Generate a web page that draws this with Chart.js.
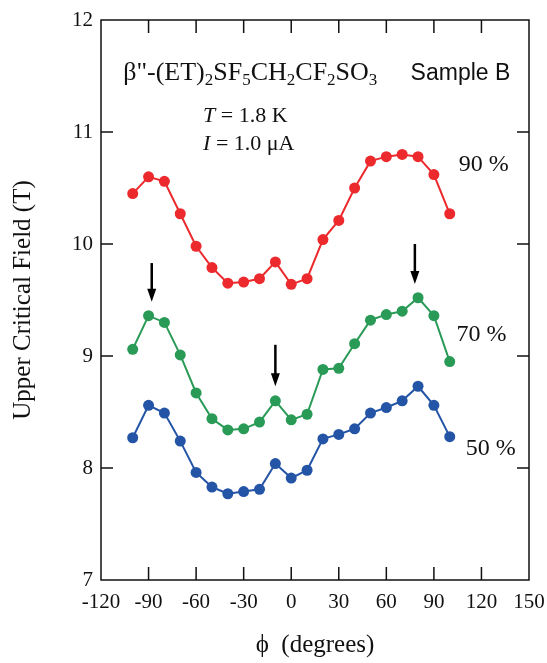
<!DOCTYPE html>
<html>
<head>
<meta charset="utf-8">
<script src="https://cdn.jsdelivr.net/npm/chart.js@4.4.0/dist/chart.umd.min.js"></script>
<style>
  html, body { margin: 0; padding: 0; background: #fff; }
  #wrap { width: 547px; height: 663px; }
</style>
</head>
<body>
<div id="wrap"><canvas id="hc2Chart" width="547" height="663"></canvas></div>
<script>
// Angles (degrees)
const angles = [-100, -90, -80, -70, -60, -50, -40, -30, -20, -10, 0, 10, 20, 30, 40, 50, 60, 70, 80, 90, 100];

// Upper critical field (T) for each criterion
const field90 = [10.45, 10.60, 10.56, 10.27, 9.98, 9.79, 9.65, 9.66, 9.69, 9.84, 9.64, 9.69, 10.04, 10.21, 10.50, 10.74, 10.78, 10.80, 10.78, 10.62, 10.27];
const field70 = [9.06, 9.36, 9.30, 9.01, 8.67, 8.44, 8.34, 8.35, 8.41, 8.60, 8.43, 8.48, 8.88, 8.89, 9.11, 9.32, 9.37, 9.40, 9.52, 9.36, 8.95];
const field50 = [8.27, 8.56, 8.49, 8.24, 7.96, 7.83, 7.77, 7.79, 7.81, 8.04, 7.91, 7.98, 8.26, 8.30, 8.35, 8.49, 8.54, 8.60, 8.73, 8.56, 8.28];

// Tick labels
const xTicks = [-120, -90, -60, -30, 0, 30, 60, 90, 120, 150];
const yTicks = [7, 8, 9, 10, 11, 12];

// Arrows (x position, start and tip in T)
const arrowX = [-88, -10, 78];
const arrowTop = [9.83, 9.10, 10.00];
const arrowTip = [9.485, 8.73, 9.643];

const SERIF = '"Liberation Serif", "Times New Roman", serif';
const SANS = '"Liberation Sans", Arial, sans-serif';
const INK = '#111';

function toPoints(ys) {
    return angles.map((a, i) => ({ x: a, y: ys[i] }));
}

function series(label, ys, color) {
    return {
        label: label,
        data: toPoints(ys),
        borderColor: color,
        backgroundColor: color,
        pointBackgroundColor: color,
        pointBorderWidth: 0,
        pointRadius: 5.5,
        borderWidth: 2,
        tension: 0,
        fill: false
    };
}

// Cadre, graduations internes, flèches et annotations
const decorPlugin = {
    id: 'decor',
    afterDraw(chart) {
        const ctx = chart.ctx;
        const a = chart.chartArea;
        const xs = chart.scales.x;
        const ys = chart.scales.y;
        ctx.save();

        ctx.strokeStyle = INK;
        ctx.lineWidth = 1.5;
        ctx.strokeRect(a.left, a.top, a.right - a.left, a.bottom - a.top);

        ctx.beginPath();
        xTicks.slice(1, -1).forEach(v => {
            const px = xs.getPixelForValue(v);
            ctx.moveTo(px, a.bottom); ctx.lineTo(px, a.bottom - 13);
            ctx.moveTo(px, a.top); ctx.lineTo(px, a.top + 13);
        });
        yTicks.slice(1, -1).forEach(v => {
            const py = ys.getPixelForValue(v);
            ctx.moveTo(a.left, py); ctx.lineTo(a.left + 12, py);
            ctx.moveTo(a.right, py); ctx.lineTo(a.right - 12, py);
        });
        ctx.stroke();

        // flèches
        arrowX.forEach((v, i) => {
            const px = xs.getPixelForValue(v);
            const y0 = ys.getPixelForValue(arrowTop[i]);
            const y1 = ys.getPixelForValue(arrowTip[i]);
            ctx.strokeStyle = '#000';
            ctx.lineWidth = 2.5;
            ctx.beginPath();
            ctx.moveTo(px, y0);
            ctx.lineTo(px, y1 - 10);
            ctx.stroke();
            ctx.fillStyle = '#000';
            ctx.beginPath();
            ctx.moveTo(px - 4.5, y1 - 13);
            ctx.lineTo(px + 4.5, y1 - 13);
            ctx.lineTo(px, y1);
            ctx.closePath();
            ctx.fill();
        });

        ctx.fillStyle = INK;
        ctx.textBaseline = 'alphabetic';
        ctx.textAlign = 'left';

        // formule avec indices
        const parts = [['β"-(ET)', 0], ['2', 1], ['SF', 0], ['5', 1], ['CH', 0], ['2', 1], ['CF', 0], ['2', 1], ['SO', 0], ['3', 1]];
        let tx = xs.getPixelForValue(-106);
        const ty = ys.getPixelForValue(11.464);
        parts.forEach(([t, sub]) => {
            ctx.font = sub ? '17px ' + SERIF : '26px ' + SERIF;
            ctx.fillText(t, tx, ty + (sub ? 5 : 0));
            tx += ctx.measureText(t).width;
        });

        ctx.font = '23px ' + SANS;
        ctx.fillText('Sample B', xs.getPixelForValue(75.3), ty);

        // conditions
        function mixed(items, x, y) {
            items.forEach(([t, it]) => {
                ctx.font = (it ? 'italic ' : '') + '22px ' + SERIF;
                ctx.fillText(t, x, y);
                x += ctx.measureText(t).width;
            });
        }
        const cx = xs.getPixelForValue(-55.6);
        mixed([['T', 1], [' = 1.8 K', 0]], cx, ys.getPixelForValue(11.085));
        mixed([['I', 1], [' = 1.0 μA', 0]], cx, ys.getPixelForValue(10.835));

        ctx.font = '24px ' + SERIF;
        ctx.fillText('90 %', xs.getPixelForValue(105.7), ys.getPixelForValue(10.652));
        ctx.fillText('70 %', xs.getPixelForValue(104.3), ys.getPixelForValue(9.134));
        ctx.fillText('50 %', xs.getPixelForValue(110.1), ys.getPixelForValue(8.12));

        ctx.restore();
    }
};

new Chart(document.getElementById('hc2Chart'), {
    type: 'line',
    data: {
        datasets: [
            series('90 %', field90, '#ec2a2d'),
            series('70 %', field70, '#2a9a57'),
            series('50 %', field50, '#2454a6')
        ]
    },
    options: {
        responsive: false,
        animation: false,
        devicePixelRatio: 1,
        layout: { padding: { top: 20, right: 18, left: 0, bottom: 0 } },
        plugins: {
            legend: { display: false },
            tooltip: { enabled: false }
        },
        scales: {
            x: {
                type: 'linear',
                min: -120,
                max: 150,
                afterFit: s => { s.height = 83; s.paddingLeft = 0; s.paddingRight = 0; },
                afterBuildTicks: s => { s.ticks = xTicks.map(v => ({ value: v })); },
                grid: { display: false, drawTicks: false },
                border: { display: false },
                ticks: {
                    color: INK,
                    font: { family: SERIF, size: 21 },
                    padding: 10,
                    maxRotation: 0,
                    autoSkip: false
                },
                title: {
                    display: true,
                    text: 'ϕ  (degrees)',
                    color: INK,
                    font: { family: SERIF, size: 25 },
                    padding: { top: 0, bottom: 3 }
                }
            },
            y: {
                min: 7,
                max: 12,
                afterFit: s => { s.width = 101; s.paddingTop = 0; s.paddingBottom = 0; },
                afterBuildTicks: s => { s.ticks = yTicks.map(v => ({ value: v })); },
                grid: { display: false, drawTicks: false },
                border: { display: false },
                ticks: {
                    color: INK,
                    font: { family: SERIF, size: 21 },
                    padding: 8
                },
                title: {
                    display: true,
                    text: 'Upper Critical Field (T)',
                    color: INK,
                    font: { family: SERIF, size: 25 },
                    padding: { top: 8, bottom: 0 }
                }
            }
        }
    },
    plugins: [decorPlugin]
});
</script>
</body>
</html>
